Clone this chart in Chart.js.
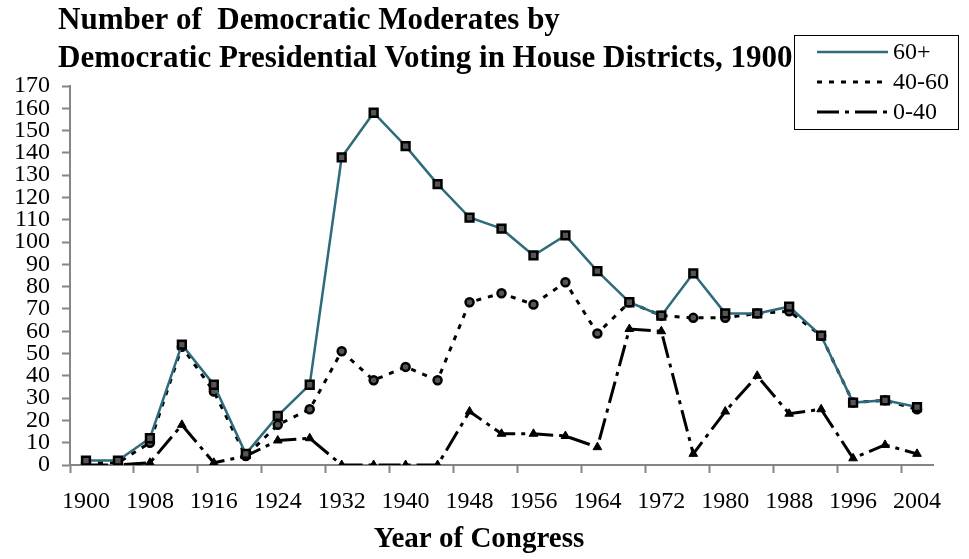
<!DOCTYPE html>
<html lang="en">
<head>
    <meta charset="UTF-8">
    <title>Democratic Moderates by Presidential Voting</title>
    <script src="https://cdn.jsdelivr.net/npm/chart.js"></script>
    <style>
        body {
            margin: 0;
            background: #fff;
        }
        canvas {
            display: block;
        }
    </style>
</head>
<body>

    <canvas id="modChart" width="969" height="559"></canvas>

    <script>
        // Years of Congress, one every 4 years
        const years = ["1900", "1904", "1908", "1912", "1916", "1920", "1924", "1928", "1932", "1936",
                       "1940", "1944", "1948", "1952", "1956", "1960", "1964", "1968", "1972", "1976",
                       "1980", "1984", "1988", "1992", "1996", "2000", "2004"];

        const over60 = [2, 2, 12, 54, 36, 5, 22, 36, 138, 158, 143, 126, 111, 106, 94, 103, 87, 73, 67, 86,
                        68, 68, 71, 58, 28, 29, 26];
        const from40to60 = [1, 1, 10, 53, 33, 4, 18, 25, 51, 38, 44, 38, 73, 77, 72, 82, 59, 73, 67, 66,
                            66, 68, 69, 58, 28, 29, 25];
        const under40 = [0, 0, 1, 18, 1, 4, 11, 12, 0, 0, 0, 0, 24, 14, 14, 13, 8, 61, 60, 5,
                         24, 40, 23, 25, 3, 9, 5];

        const seriesNames = ["60+", "40-60", "0-40"];
        const titleLines = ["Number of  Democratic Moderates by",
                            "Democratic Presidential Voting in House Districts, 1900"];
        const xTitle = "Year of Congress";

        const axisGray = "#858585";
        const teal = "#2f6b7b";
        const serif = "'Liberation Serif', 'Times New Roman', serif";

        Chart.defaults.font.family = serif;
        Chart.defaults.color = "#000";

        // title, axis title and the boxed legend are painted by hand
        const decorations = {
            id: "decorations",
            afterDraw(chart) {
                const ctx = chart.ctx;
                ctx.save();
                ctx.fillStyle = "#000";
                ctx.textBaseline = "alphabetic";
                ctx.textAlign = "left";
                ctx.font = "bold 31px " + serif;
                ctx.fillText(titleLines[0], 58, 29);
                ctx.fillText(titleLines[1], 58, 67);

                ctx.textAlign = "center";
                ctx.font = "bold 29px " + serif;
                ctx.fillText(xTitle, 479, 547);

                // legend box
                const bx = 794, by = 35, bw = 164, bh = 94;
                ctx.fillStyle = "#fff";
                ctx.fillRect(bx, by, bw, bh);
                ctx.strokeStyle = "#000";
                ctx.lineWidth = 1;
                ctx.strokeRect(bx + 0.5, by + 0.5, bw, bh);

                chart.data.datasets.forEach((ds, i) => {
                    const y = 52 + i * 30;
                    ctx.save();
                    ctx.strokeStyle = ds.borderColor;
                    ctx.lineWidth = ds.borderWidth;
                    ctx.setLineDash(ds.borderDash || []);
                    ctx.beginPath();
                    ctx.moveTo(817, y);
                    ctx.lineTo(888, y);
                    ctx.stroke();
                    ctx.restore();

                    ctx.save();
                    ctx.fillStyle = ds.pointBackgroundColor;
                    ctx.strokeStyle = ds.pointBorderColor;
                    ctx.lineWidth = ds.pointBorderWidth;
                    Chart.helpers.drawPoint(ctx, {
                        pointStyle: ds.pointStyle,
                        rotation: 0,
                        borderWidth: ds.pointBorderWidth
                    }, 853, y, ds.pointRadius - 0.5);
                    ctx.restore();

                    ctx.fillStyle = "#000";
                    ctx.textAlign = "left";
                    ctx.textBaseline = "middle";
                    ctx.font = "24px " + serif;
                    ctx.fillText(seriesNames[i], 893, y + 1);
                });
                ctx.restore();
            }
        };

        const ctx = document.getElementById("modChart").getContext("2d");
        new Chart(ctx, {
            type: "line",
            data: {
                labels: years,
                datasets: [
                    {
                        label: seriesNames[0],
                        data: over60,
                        borderColor: teal,
                        borderWidth: 2.5,
                        pointStyle: "rect",
                        pointRadius: 5.5,
                        pointBorderWidth: 2.5,
                        pointBorderColor: "#000",
                        pointBackgroundColor: "#555",
                        tension: 0
                    },
                    {
                        label: seriesNames[1],
                        data: from40to60,
                        borderColor: "#000",
                        borderWidth: 3,
                        borderDash: [5, 7],
                        pointStyle: "circle",
                        pointRadius: 4,
                        pointBorderWidth: 2.5,
                        pointBorderColor: "#000",
                        pointBackgroundColor: "#555",
                        tension: 0
                    },
                    {
                        label: seriesNames[2],
                        data: under40,
                        borderColor: "#000",
                        borderWidth: 3,
                        borderDash: [22, 6, 4, 6],
                        pointStyle: "triangle",
                        pointRadius: 5,
                        pointBorderWidth: 1,
                        pointBorderColor: "#000",
                        pointBackgroundColor: "#000",
                        tension: 0
                    }
                ]
            },
            options: {
                responsive: false,
                animation: false,
                layout: {
                    padding: { top: 86, left: 0, right: 36, bottom: 0 }
                },
                plugins: {
                    legend: { display: false },
                    title: { display: false },
                    tooltip: { enabled: false }
                },
                scales: {
                    x: {
                        offset: true,
                        grid: {
                            offset: true,
                            drawOnChartArea: false,
                            drawTicks: true,
                            tickLength: 8,
                            tickWidth: 2,
                            tickColor: (c) => (c.index % 2 === 0 ? axisGray : "rgba(0,0,0,0)")
                        },
                        border: { color: axisGray, width: 2 },
                        ticks: {
                            autoSkip: false,
                            maxRotation: 0,
                            padding: 14,
                            font: { size: 24 },
                            callback: function (val, i) {
                                return i % 2 === 0 ? this.getLabelForValue(val) : "";
                            }
                        },
                        afterFit: (scale) => { scale.height = 94; }
                    },
                    y: {
                        min: 0,
                        max: 170,
                        grid: {
                            drawOnChartArea: false,
                            drawTicks: true,
                            tickLength: 8,
                            tickWidth: 2,
                            tickColor: axisGray
                        },
                        border: { color: axisGray, width: 2 },
                        ticks: {
                            stepSize: 10,
                            padding: 12,
                            font: { size: 24 },
                            autoSkip: false
                        },
                        afterFit: (scale) => { scale.width = 70; }
                    }
                }
            },
            plugins: [decorations]
        });
    </script>

</body>
</html>
